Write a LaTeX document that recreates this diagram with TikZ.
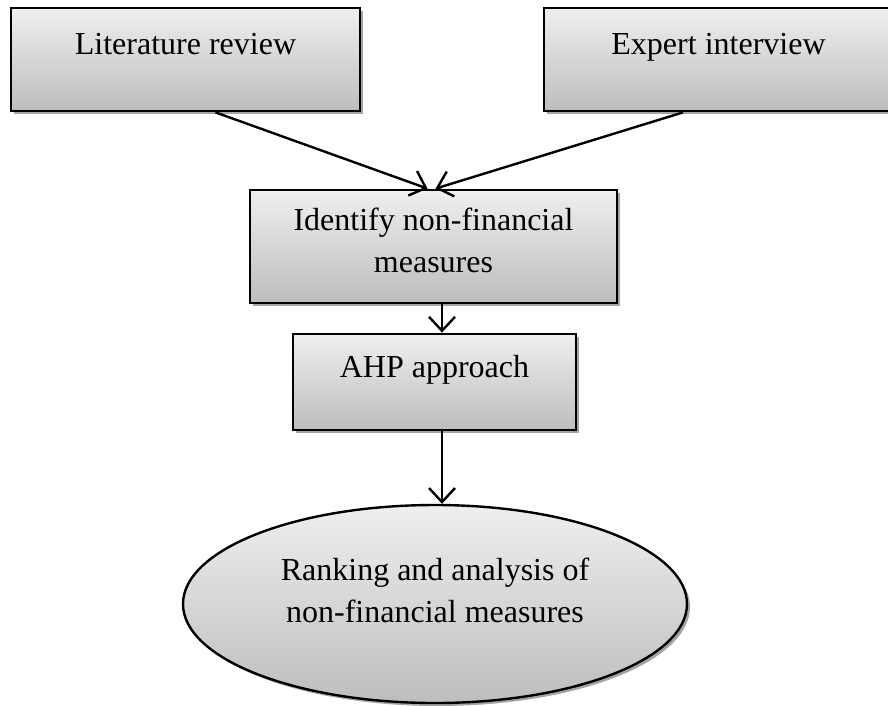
\documentclass[tikz,border=0pt]{standalone}
\usepackage{fontspec}
\setmainfont{Liberation Serif}
\usepackage{tikz}
\usetikzlibrary{arrows.meta, shadows, shapes.geometric}
\usepackage{xcolor}
\definecolor{shadetop}{HTML}{EFEFEF}
\definecolor{shadebot}{HTML}{BDBDBD}
\definecolor{shadow}{HTML}{A4A4A4}

\begin{document}
\begin{tikzpicture}[
    x=1pt, y=-1pt,
    stage/.style={draw, line width=2.8pt, rectangle, inner sep=0, align=center,
        top color=shadetop, bottom color=shadebot,
        drop shadow={shadow xshift=3pt, shadow yshift=-3pt, fill=shadow, opacity=1},
        font=\fontsize{32}{42}\selectfont},
    result/.style={stage, ellipse, line width=2.4pt},
    flow/.style={->, line width=2.4pt},
    >={Straight Barb[length=14pt, width=26pt, line width=2.4pt]}
]
\useasboundingbox (0,0) rectangle (888,706);

\node[stage, minimum width=349pt, text height=47pt, text depth=56pt] (lit) at (185.5,59.5) {Literature review};
\node[stage, minimum width=349pt, text height=47pt, text depth=56pt] (exp) at (718.5,59.5) {Expert interview};
\node[stage, minimum width=367pt, text height=82pt, text depth=31pt] (ident) at (433.5,246.5) {Identify non-financial\\measures};
\node[stage, minimum width=283pt, text height=43pt, text depth=53pt] (ahp) at (434.5,382) {AHP approach};
\node[result, minimum width=504pt, minimum height=198pt, text height=58pt, text depth=22pt] (rank) at (435,604) {Ranking and analysis of\\non-financial measures};

\draw[flow] ([xshift=30pt]lit.south) -- ([xshift=-6pt]ident.north);
\draw[flow] ([xshift=-35.5pt]exp.south) -- ([xshift=2pt]ident.north);
\draw[flow] ([xshift=8.5pt]ident.south) -- ([xshift=7.5pt]ahp.north);
\draw[flow] ([xshift=7.5pt]ahp.south) -- ([xshift=7pt]rank.north);
\end{tikzpicture}
\end{document}
